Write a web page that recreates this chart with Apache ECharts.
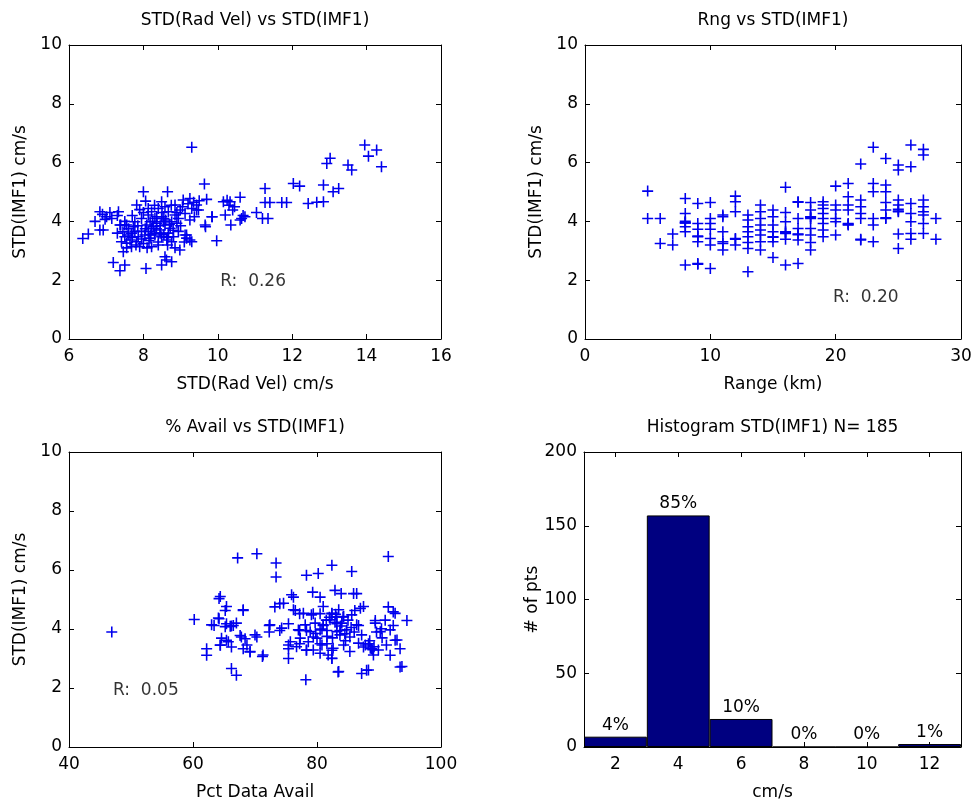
<!DOCTYPE html>
<html>
<head>
<meta charset="utf-8">
<script src="https://cdn.jsdelivr.net/npm/echarts@6/dist/echarts.min.js"></script>
<style>html,body{margin:0;padding:0;background:#fff}#c{width:975px;height:802px}</style>
</head>
<body>
<div id="c"></div>
<script>
// ---------- DATA ----------
// Panel 1: [STD(Rad Vel), STD(IMF1)]
const radVelPoints = [
[9.3,6.52],[13.95,6.6],[14.27,6.43],[14.05,6.22],[14.4,5.86],[13.02,6.15],[12.93,5.97],[13.5,5.92],[13.6,5.75],
[12.03,5.29],[12.2,5.2],[12.84,5.24],[13.1,5.01],[13.25,5.12],[11.27,5.12],[9.64,5.27],[10.6,4.82],[10.15,4.67],
[10.33,4.67],[11.27,4.64],[11.4,4.64],[11.72,4.64],[11.85,4.64],[12.43,4.61],[12.66,4.65],[12.84,4.67],[11.04,4.3],
[11.2,4.1],[11.35,4.1],[10.64,4.1],[10.73,4.16],[10.2,4.22],[10.4,4.39],[10.35,3.88],[9.85,4.16],[9.67,3.82],
[9.97,3.34],[9.37,4.16],[9.43,4.39],[9.25,3.37],[9.16,3.54],[8.98,3.03],[8.62,2.69],[8.76,2.63],[8.49,2.52],
[8.07,2.4],[7.19,2.6],[7.37,2.32],[7.5,2.52],[6.37,3.42],[6.52,3.57],[6.83,3.71],[6.83,4.33],[6.97,4.07],
[7.15,4.1],[7.33,4.33],[7.39,3.88],[7.5,3.88],[7.41,3.31],[8.0,5.01],[8.65,5.01],
[10.25,4.72],[10.45,4.5],[10.6,4.05],[10.68,4.2],[10.3,4.55],
[7.82,4.56],[8.06,4.69],[8.49,4.67],[8.85,4.56],[9.07,4.73],[9.25,4.78],[9.43,4.56],[6.9,4.24],[7.01,4.16],
[7.37,3.88],[7.55,3.88],[7.73,3.82],[7.95,4.1],[8.13,4.22],[8.31,4.1],[8.49,4.16],[8.67,4.33],[8.85,4.22],
[8.99,4.39],[9.12,4.27],[9.3,4.44],[9.48,4.39],[9.84,4.16],[9.66,3.88],[6.92,3.71],[7.5,3.48],[7.64,3.37],
[7.82,3.31],[8.0,3.25],[8.18,3.43],[8.31,3.54],[8.45,3.71],[8.58,3.88],[8.72,3.77],[8.22,3.77],[8.09,3.88],
[8.36,3.94],[8.54,3.99],[8.67,3.6],[8.81,3.48],[9.16,3.43],[9.3,3.31],[7.46,2.97],[7.68,3.14],[7.9,3.14],
[8.22,3.14],[8.4,3.2],[8.58,2.8],[7.68,3.6],[7.86,3.48],[8.04,3.54],[8.13,3.66],[8.27,3.83],[8.49,3.48],
[8.63,3.37],[8.76,3.31],[8.94,3.66],[9.12,3.54],[8.13,4.44],[8.22,4.33],[8.4,4.44],[8.58,4.5],[8.76,3.99],
[8.9,3.94],[8.94,4.1],[8.36,4.16],[8.18,3.99],[7.95,3.66],[7.77,3.66],[7.59,3.54],[7.55,3.26],[7.77,3.99],
[8.3,3.6],[8.45,3.85],[8.55,3.55],[8.6,4.05],[8.7,3.9],[8.4,3.3],[8.25,4.0],[8.15,3.35],[8.05,3.75],[7.95,3.4],
[7.85,3.85],[7.7,3.45],[7.6,3.75],[8.5,4.3],[8.35,3.75],[8.65,3.45],[8.8,3.7],[8.45,3.6],[8.2,3.55],[8.55,4.1],
[8.9,4.3],[9.05,4.5],[9.2,4.6],[8.75,4.55],[8.3,4.55],[7.9,4.4],[7.7,4.2],[8.0,4.3],[7.5,4.0],[7.3,4.2],
[7.1,4.3],[6.7,4.0],[7.45,3.65],[7.3,3.6],[9.0,3.85],[9.25,4.05],[9.5,4.7],[9.35,4.65],[9.7,4.75],[7.8,3.2],
[8.1,3.1],[8.65,3.2],[7.55,3.1],[9.1,3.3],[8.85,3.1]
];
// Panel 2: [Range (km), STD(IMF1)]
const rangePoints = [
[5,5.03],[5,4.10],[6,4.10],[6,3.25],[7,3.57],[7,3.20],
[8,4.78],[8,4.27],[8,4.0],[8,3.95],[8,3.95],[8,3.82],[8,3.65],[8,2.52],
[9,4.61],[9,3.93],[9,3.73],[9,3.5],[9,3.48],[9,3.31],[9,2.57],[9,2.54],
[10,4.64],[10,4.10],[10,3.93],[10,3.73],[10,3.42],[10,3.2],[10,2.40],
[11,4.22],[11,4.16],[11,3.65],[11,3.31],[11,3.25],[11,3.03],
[12,4.86],[12,4.67],[12,4.33],[12,3.42],[12,3.39],[12,3.20],
[13,4.22],[13,4.05],[13,3.82],[13,3.65],[13,3.48],[13,3.28],[13,3.08],[13,2.29],
[14,4.56],[14,4.33],[14,4.10],[14,3.88],[14,3.71],[14,3.54],[14,3.31],[14,3.03],
[15,4.39],[15,4.16],[15,3.88],[15,3.65],[15,3.48],[15,3.46],[15,3.31],[15,2.77],
[16,5.16],[16,4.3],[16,3.99],[16,3.65],[16,3.59],[16,3.62],[16,3.39],[16,2.52],
[17,4.67],[17,4.65],[17,4.10],[17,3.76],[17,3.57],[17,3.55],[17,3.37],[17,2.57],
[18,4.64],[18,4.39],[18,4.16],[18,4.14],[18,4.10],[18,3.76],[18,3.54],[18,3.28],[18,3.03],
[19,4.67],[19,4.56],[19,4.44],[19,4.27],[19,4.10],[19,3.93],[19,3.71],[19,3.48],
[20,5.2],[20,4.56],[20,4.39],[20,4.10],[20,3.99],[20,3.54],
[21,5.29],[21,4.84],[21,4.56],[21,4.39],[21,3.93],[21,3.88],[21,3.90],
[22,5.95],[22,4.73],[22,4.5],[22,4.27],[22,4.10],[22,3.39],[22,3.37],
[23,6.52],[23,5.29],[23,5.01],[23,4.10],[23,3.88],[23,3.31],
[24,6.14],[24,5.24],[24,5.01],[24,4.64],[24,4.39],[24,4.10],[24,4.12],
[25,5.92],[25,5.75],[25,4.73],[25,4.56],[25,4.41],[25,4.33],[25,4.35],[25,3.57],[25,3.08],
[26,6.6],[26,5.86],[26,4.61],[26,4.27],[26,3.99],[26,3.59],[26,3.39],
[27,6.45],[27,6.26],[27,4.73],[27,4.5],[27,4.33],[27,4.22],[27,3.93],[27,3.59],
[28,4.10],[28,3.39]
];
// Panel 3: [Pct Data Avail, STD(IMF1)]
const availPoints = [
[46.9,3.9],[60.2,4.32],[62.2,3.33],[62.2,3.11],[63.4,4.12],[64.2,5.03],[64.2,4.35],[65.2,4.63],[65.4,4.18],
[66.0,4.09],[66.5,4.12],[66.2,4.10],[64.4,3.45],[65.4,3.62],[66.2,3.39],[66.2,2.66],[67.0,2.43],[67.2,6.41],
[68.1,4.63],[67.8,3.73],[68.4,3.67],[67.6,3.78],[68.1,3.33],[69.2,3.22],[70.3,6.55],[70.3,3.73],[71.2,3.07],
[72.3,4.12],[72.3,3.9],[73.4,6.24],[73.4,5.76],[73.2,4.75],[74.0,4.86],[74.0,3.95],[75.4,4.18],[75.4,3.33],
[75.4,3.0],[76.2,5.08],[76.5,4.63],[77.2,4.52],[77.2,3.95],[77.2,3.5],[78.3,5.82],[78.2,2.28],[78.3,3.28],
[78.3,3.95],[79.3,5.25],[79.4,4.52],[79.4,3.73],[80.2,5.88],[80.5,5.08],[80.5,3.5],[80.5,4.52],[81.0,4.12],
[81.6,3.95],[81.6,3.5],[82.4,6.16],[82.4,4.52],[82.4,3.28],[82.4,3.0],[82.9,5.31],[83.2,4.41],[83.2,4.18],
[83.4,2.54],[83.7,3.95],[83.9,5.2],[84.2,4.41],[84.5,3.84],[85.3,3.73],[85.6,5.95],[85.9,5.2],[86.1,4.63],
[86.4,5.2],[86.7,4.12],[87.2,2.49],[87.5,3.39],[88.0,2.6],[88.3,3.5],[88.8,3.33],[89.0,3.30],[89.4,4.29],
[89.6,3.9],[90.4,4.01],[91.5,6.46],[91.5,4.75],[91.8,3.11],[92.3,4.58],[92.3,4.12],[92.6,3.62],[93.4,3.33],
[93.4,2.71],[94.5,4.29],
[64.4,5.1],[65.4,4.76],[68.1,4.65],[64.1,4.37],[63.0,4.14],[67.0,4.2],[70.0,3.8],[64.4,3.46],[65.7,3.57],
[68.7,3.46],[69.2,3.24],[71.3,3.12],[72.4,4.14],[74.3,4.03],[74.6,4.87],[75.4,3.46],[75.9,5.16],[65.2,4.08],
[64.6,3.69],[76.2,4.65],[77.8,4.53],[79.1,4.48],[81.0,4.76],[82.4,4.53],[83.5,4.65],[84.3,4.42],[85.6,4.48],
[87.0,4.7],[87.5,4.76],[82.1,4.31],[82.9,4.23],[81.0,4.14],[79.7,4.2],[78.1,4.14],[77.0,3.97],[78.9,3.91],
[80.5,3.97],[83.2,3.91],[84.8,3.97],[86.4,4.14],[89.4,4.2],[92.6,4.53],[77.3,3.69],[78.6,3.57],[80.0,3.69],
[81.6,3.75],[83.7,3.8],[87.2,3.8],[90.2,3.91],[91.8,3.97],[76.7,3.4],[78.3,3.29],[80.8,3.46],[82.6,3.35],
[85.3,3.24],[87.8,3.46],[88.6,3.35],[89.9,3.29],[91.2,3.46],[92.9,3.63],[82.4,3.01],[83.5,2.56],[88.3,2.61],
[93.7,2.73],[89.1,3.12],[86.7,3.52],[84.3,3.46],[81.8,3.12],[80.5,3.18],[79.4,3.29],[75.7,3.57],
[82.0,4.4],[83.0,4.5],[84.0,4.2],[81.5,4.3],[80.8,4.0],[82.5,3.7],[83.8,4.1],[85.0,4.3],[79.8,3.85],
[88.5,3.6],[89.2,3.4],[90.5,3.7],[86.0,3.9],[84.6,3.6],[85.5,4.05],[91.0,4.3]
];

// Panel 4: histogram
const histBins = ['2','4','6','8','10','12'];
const histCounts = [7,157,19,0,0,2];
const histPct = [4,85,10,0,0,1];

// Titles, names, ticks
const titles = ['STD(Rad Vel) vs STD(IMF1)','Rng vs STD(IMF1)','% Avail vs STD(IMF1)','Histogram STD(IMF1) N= 185'];
const xNames = ['STD(Rad Vel) cm/s','Range (km)','Pct Data Avail','cm/s'];
const yNames = ['STD(IMF1) cm/s','STD(IMF1) cm/s','STD(IMF1) cm/s','# of pts'];
const xRanges = [[6,16,2],[0,30,10],[40,100,20]];
const yRanges = [[0,10,2],[0,10,2],[0,10,2],[0,200,50]];
const rTexts = ['R:  0.26','R:  0.20','R:  0.05'];
const rPos = [[10.95,1.98],[22.4,1.44],[52.4,1.94]];

// ---------- CHART ----------
const FONT = 'DejaVu Sans';
const FS = 17;
const grids = [
  {left:69, top:45, width:372, height:294},
  {left:585, top:45, width:376, height:294},
  {left:69, top:452, width:372, height:295},
  {left:584, top:452, width:377, height:296}
];
const lineStyle = {color:'#000', width:1};
const tickStyle = {show:true, inside:true, length:5, lineStyle:{color:'#000', width:1}};
const labelStyle = {color:'#000', fontFamily:FONT, fontSize:FS};
const nameStyle = {color:'#000', fontFamily:FONT, fontSize:FS};

const xAxis = [], yAxis = [];
for (let i = 0; i < 4; i++) {
  for (const pos of ['bottom','top']) {
    const main = pos === 'bottom';
    const ax = {
      gridIndex:i, position:pos,
      axisLine:{show:true, onZero:false, lineStyle},
      axisTick: i===3 ? Object.assign({alignWithLabel:true}, tickStyle) : tickStyle,
      axisLabel: main ? Object.assign({margin:9}, labelStyle) : {show:false},
      splitLine:{show:false},
      name: main ? xNames[i] : '', nameLocation:'middle', nameGap:37, nameTextStyle:nameStyle
    };
    if (i === 3) { ax.type='category'; ax.data=histBins; ax.boundaryGap=true; }
    else { ax.type='value'; ax.min=xRanges[i][0]; ax.max=xRanges[i][1]; ax.interval=xRanges[i][2]; }
    xAxis.push(ax);
  }
  for (const pos of ['left','right']) {
    const main = pos === 'left';
    const ay = {
      type:'value', gridIndex:i, position:pos,
      min:yRanges[i][0], max:yRanges[i][1], interval:yRanges[i][2],
      axisLine:{show:true, onZero:false, lineStyle},
      axisTick:tickStyle,
      axisLabel: main ? Object.assign({margin:7}, labelStyle) : {show:false},
      splitLine:{show:false},
      name: main ? yNames[i] : '', nameLocation:'middle', nameGap:40, nameTextStyle:nameStyle
    };
    if (i === 3) { ay.nameMoveOverlap = false; ay.nameGap = 43; }
    yAxis.push(ay);
  }
}

const plusPath = 'path://M6,0h2v6h6v2h-6v6h-2v-6h-6v-2h6z';
const scatterSets = [radVelPoints, rangePoints, availPoints];
const series = [];
scatterSets.forEach((pts, i) => {
  series.push({
    type:'scatter', xAxisIndex:2*i, yAxisIndex:2*i, data:pts,
    symbol:plusPath, symbolSize:11, symbolKeepAspect:true,
    itemStyle:{color:'#0000ee', opacity:1}, silent:true, animation:false
  });
  series.push({
    type:'scatter', xAxisIndex:2*i, yAxisIndex:2*i, data:[rPos[i]],
    symbolSize:1, itemStyle:{color:'#ffffff'}, silent:true, animation:false,
    label:{show:true, position:'top', distance:-10, formatter:rTexts[i], color:'#000',
      textBorderWidth:0, fontFamily:FONT, fontSize:FS}
  });
});
series.push({
  type:'bar', xAxisIndex:6, yAxisIndex:6, data:histCounts, barWidth:'100%', barCategoryGap:0,
  itemStyle:{color:'#000080', borderColor:'#000', borderWidth:1}, animation:false, silent:true,
  label:{show:true, position:'top', distance:3, color:'#000', fontFamily:FONT, fontSize:FS,
    formatter: p => histPct[p.dataIndex] + '%'}
});

const title = titles.map((t, i) => ({
  text:t, left: grids[i].left + grids[i].width/2, top: grids[i].top - 33, textAlign:'center', padding:0,
  textStyle:{color:'#000', fontFamily:FONT, fontSize:FS, fontWeight:'normal'}
}));

const chart = echarts.init(document.getElementById('c'), null, {renderer:'canvas'});
chart.setOption({
  backgroundColor:'#fff', animation:false,
  title, grid:grids, xAxis, yAxis, series
});
</script>
</body>
</html>
